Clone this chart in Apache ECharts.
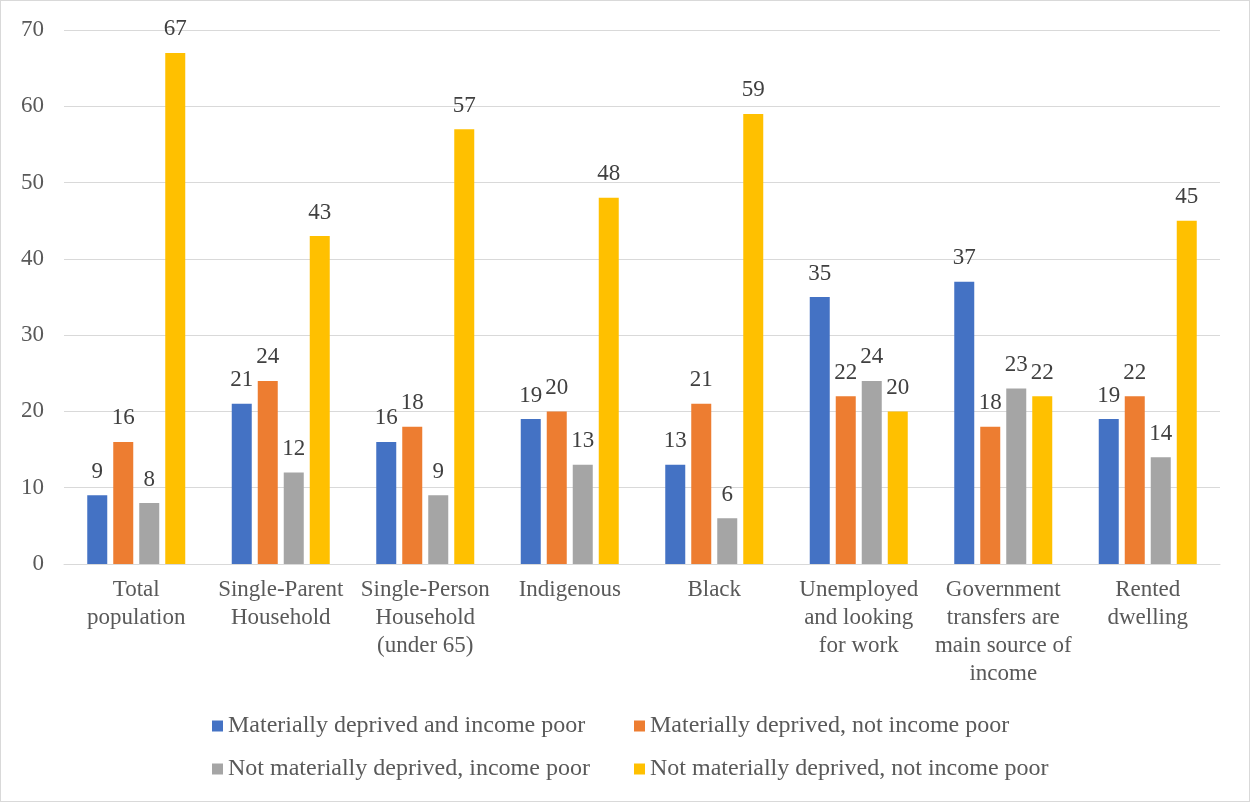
<!DOCTYPE html>
<html>
<head>
<meta charset="utf-8">
<script src="https://cdn.jsdelivr.net/npm/echarts@6/dist/echarts.min.js"></script>
<style>
  html, body { margin: 0; padding: 0; background: #fff; }
  #frame { position: absolute; left: 0; top: 0; width: 1248px; height: 800px; border: 1px solid #d9d9d9; }
  #chart { position: absolute; left: 0; top: 0; width: 1250px; height: 803px; }
</style>
</head>
<body>
<div id="frame"></div>
<div id="chart"></div>
<script>
// Groups along the horizontal axis
const categories = [
  'Total\npopulation',
  'Single-Parent\nHousehold',
  'Single-Person\nHousehold\n(under 65)',
  'Indigenous',
  'Black',
  'Unemployed\nand looking\nfor work',
  'Government\ntransfers are\nmain source of\nincome',
  'Rented\ndwelling'
];

// Shares (%) in each group
const deprivedAndPoor      = [9, 21, 16, 19, 13, 35, 37, 19];
const deprivedNotPoor      = [16, 24, 18, 20, 21, 22, 18, 22];
const notDeprivedPoor      = [8, 12, 9, 13, 6, 24, 23, 14];
const notDeprivedNotPoor   = [67, 43, 57, 48, 59, 20, 22, 45];

const seriesNames = [
  'Materially deprived and income poor',
  'Materially deprived, not income poor',
  'Not materially deprived, income poor',
  'Not materially deprived, not income poor'
];

const yTicks = { min: 0, max: 70, interval: 10 };

const colors = ['#4472C4', '#ED7D31', '#A5A5A5', '#FFC000'];
const FONT = '"Liberation Serif", "Times New Roman", serif';

const chart = echarts.init(document.getElementById('chart'), null, { renderer: 'canvas' });

const makeSeries = (name, data, color) => ({
  name,
  type: 'bar',
  data,
  barWidth: 20,
  barGap: '30%',
  itemStyle: { color },
  label: {
    show: true,
    position: 'top',
    distance: 12,
    fontFamily: FONT,
    fontSize: 23,
    color: '#404040'
  }
});

const legendText = { fontFamily: FONT, fontSize: 24, color: '#595959', lineHeight: 24 };

chart.setOption({
  animation: false,
  textStyle: { fontFamily: FONT },
  grid: { left: 64, right: 30, top: 30, bottom: 239, containLabel: false },
  legend: [
    {
      orient: 'vertical', left: 212, top: 714, padding: 0,
      data: [seriesNames[0], seriesNames[2]],
      icon: 'rect', itemWidth: 11, itemHeight: 11, itemGap: 19,
      textStyle: legendText
    },
    {
      orient: 'vertical', left: 634, top: 714, padding: 0,
      data: [seriesNames[1], seriesNames[3]],
      icon: 'rect', itemWidth: 11, itemHeight: 11, itemGap: 19,
      textStyle: legendText
    }
  ],
  xAxis: {
    type: 'category',
    data: categories,
    axisLine: { lineStyle: { color: '#d9d9d9', width: 1 } },
    axisTick: { show: false },
    axisLabel: {
      interval: 0,
      margin: 12,
      fontFamily: FONT,
      fontSize: 23,
      lineHeight: 28,
      color: '#595959'
    }
  },
  yAxis: {
    type: 'value',
    min: yTicks.min,
    max: yTicks.max,
    interval: yTicks.interval,
    axisLine: { show: false },
    axisTick: { show: false },
    splitLine: { lineStyle: { color: '#d9d9d9', width: 1 } },
    axisLabel: {
      margin: 20,
      fontFamily: FONT,
      fontSize: 23,
      color: '#595959'
    }
  },
  series: [
    makeSeries(seriesNames[0], deprivedAndPoor, colors[0]),
    makeSeries(seriesNames[1], deprivedNotPoor, colors[1]),
    makeSeries(seriesNames[2], notDeprivedPoor, colors[2]),
    makeSeries(seriesNames[3], notDeprivedNotPoor, colors[3])
  ]
});
</script>
</body>
</html>
